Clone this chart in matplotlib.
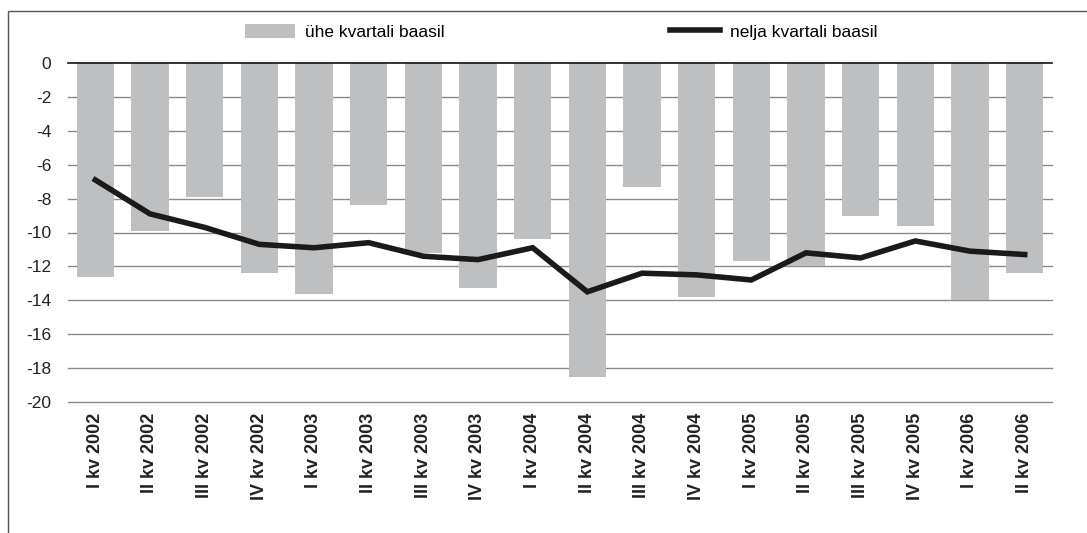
import matplotlib
matplotlib.use("Agg")
import matplotlib.pyplot as plt
from matplotlib.patches import Rectangle
import numpy as np

plt.rcParams['font.family'] = ['Liberation Sans', 'DejaVu Sans']

# kvartalid
quarters = ["I kv 2002", "II kv 2002", "III kv 2002", "IV kv 2002",
            "I kv 2003", "II kv 2003", "III kv 2003", "IV kv 2003",
            "I kv 2004", "II kv 2004", "III kv 2004", "IV kv 2004",
            "I kv 2005", "II kv 2005", "III kv 2005", "IV kv 2005",
            "I kv 2006", "II kv 2006"]

# ühe kvartali baasil (tulbad)
one_quarter = [-12.6, -9.9, -7.9, -12.4, -13.6, -8.4, -11.2, -13.3, -10.4,
               -18.5, -7.3, -13.8, -11.7, -12.0, -9.0, -9.6, -14.0, -12.4]

# nelja kvartali baasil (joon)
four_quarters = [-6.9, -8.9, -9.7, -10.7, -10.9, -10.6, -11.4, -11.6, -10.9,
                 -13.5, -12.4, -12.5, -12.8, -11.2, -11.5, -10.5, -11.1, -11.3]

yticks = list(range(0, -21, -2))

fig = plt.figure(figsize=(10.87, 5.33), dpi=100)
ax = fig.add_axes([68 / 1087, 1 - 402 / 533, (1052 - 68) / 1087, (402 - 63) / 533])

x = np.arange(len(quarters))
bars = ax.bar(x, one_quarter, width=0.68, color="#bebfc1", zorder=2)
line, = ax.plot(x, four_quarters, color="#1a1a1a", linewidth=4, zorder=4,
                solid_joinstyle="miter")

ax.set_xlim(-0.5, len(quarters) - 0.5)
ax.set_ylim(-20, 0)
ax.set_yticks(yticks)
ax.set_yticklabels([str(v) for v in yticks], fontsize=12.5, color="#222222")

for y in yticks[1:]:
    ax.axhline(y, color="#8a8a8a", linewidth=1.0, zorder=1, clip_on=False)
ax.axhline(0, color="#111111", linewidth=1.2, zorder=3, clip_on=False)

for s in ax.spines.values():
    s.set_visible(False)
ax.tick_params(axis="y", length=0, pad=12)
ax.tick_params(axis="x", length=0, pad=8)
ax.set_xticks(x)
ax.set_xticklabels(quarters, rotation=90, fontsize=13, fontweight="bold",
                   color="#222222", va="top")

# two legend entries, placed where they sit in the original
common = dict(loc="center left", frameon=False, fontsize=12.5, borderaxespad=0,
              borderpad=0, handlelength=2.9, handleheight=0.86, handletextpad=0.55)
fig.legend(handles=[bars], labels=["ühe kvartali baasil"],
           bbox_to_anchor=(245 / 1087, 1 - 32 / 533), **common)
fig.legend(handles=[line], labels=["nelja kvartali baasil"],
           bbox_to_anchor=(670 / 1087, 1 - 32 / 533), **common)

# outer frame
fig.patches.append(Rectangle((8 / 1087, -0.1), 1.2, 1.1 - 11 / 533,
                             transform=fig.transFigure, fill=False,
                             edgecolor="#555555", linewidth=1.0))

fig.savefig("out.png", dpi=100)
